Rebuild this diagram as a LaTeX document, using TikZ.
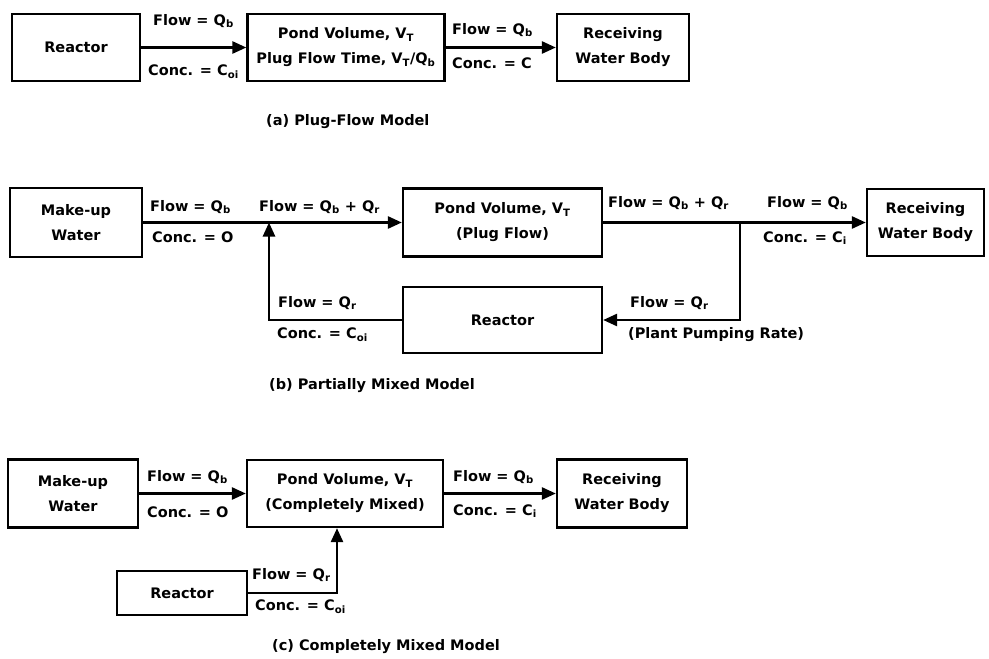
\documentclass[tikz,border=0pt]{standalone}
\usepackage{fontspec}
\setmainfont{DejaVu Sans}
\usetikzlibrary{arrows.meta}
\newcommand{\dfont}{\fontsize{14.5}{25}\selectfont\bfseries}
\newcommand{\sbs}[1]{\textsubscript{#1}}
\begin{document}
\begin{tikzpicture}[x=1pt,y=-1pt,
  box/.style={draw, line width=2.3pt, align=center, inner sep=0pt, font=\dfont},
  lbl/.style={anchor=west, inner sep=0pt, font=\dfont},
  conn/.style={line width=2.6pt},
  arr/.style={conn, -{Triangle[length=14pt,width=12pt]}}]
\path[use as bounding box, fill=white] (0,0) rectangle (989,659);

% ---------- (a) Plug-Flow Model ----------
\node[box, minimum width=128, minimum height=67] (ra) at (76,47.5) {Reactor};
\node[box, minimum width=197, minimum height=67] (pa) at (346,47.5) {Pond Volume, V\sbs{T}\\Plug Flow Time, V\sbs{T}/Q\sbs{b}};
\node[box, minimum width=132, minimum height=67] (wa) at (623,47.5) {Receiving\\Water Body};
\draw[arr] (ra.east) -- (pa.west);
\draw[arr] (pa.east) -- (wa.west);
\node[lbl] (la1) at (153,21) {Flow = Q\sbs{b}};
\node[lbl] (la2) at (148,72) {Conc. = C\sbs{oi}};
\node[lbl] (la3) at (452,30) {Flow = Q\sbs{b}};
\node[lbl] (la4) at (452,63) {Conc. = C};
\node[lbl] (capa) at (266,122) {(a) Plug-Flow Model};

% ---------- (b) Partially Mixed Model ----------
\node[box, minimum width=132, minimum height=69] (mb) at (76,222.5) {Make-up\\Water};
\node[box, minimum width=199, minimum height=68] (pb) at (502.5,222.5) {Pond Volume, V\sbs{T}\\(Plug Flow)};
\node[box, minimum width=117, minimum height=67] (wb) at (925.5,222.5) {Receiving\\Water Body};
\node[box, minimum width=199, minimum height=66] (rb) at (502.5,320) {Reactor};
\coordinate (jb) at (269,222.5);
\coordinate (sb) at (740,222.5);
\draw[conn] (mb.east) -- (jb);
\draw[arr] (jb) -- (pb.west);
\draw[conn] (pb.east) -- (sb);
\draw[arr] (sb) -- (wb.west);
\draw[arr] (sb) |- (rb.east);
\draw[arr] (rb.west) -| (jb);
\node[lbl] (lb1) at (150,207) {Flow = Q\sbs{b}};
\node[lbl] (lb2) at (152,237) {Conc. = O};
\node[lbl] (lb3) at (259,207) {Flow = Q\sbs{b} + Q\sbs{r}};
\node[lbl] (lb4) at (608,203) {Flow = Q\sbs{b} + Q\sbs{r}};
\node[lbl] (lb5) at (767,203) {Flow = Q\sbs{b}};
\node[lbl] (lb6) at (763,238) {Conc. = C\sbs{i}};
\node[lbl] (lb7) at (278,303) {Flow = Q\sbs{r}};
\node[lbl] (lb8) at (277,335) {Conc. = C\sbs{oi}};
\node[lbl] (lb9) at (630,303) {Flow = Q\sbs{r}};
\node[lbl] (lb10) at (628,335) {(Plant Pumping Rate)};
\node[lbl] (capb) at (269,386) {(b) Partially Mixed Model};

% ---------- (c) Completely Mixed Model ----------
\node[box, minimum width=130, minimum height=68] (mc) at (73,493.5) {Make-up\\Water};
\node[box, minimum width=196, minimum height=67] (pc) at (345,493.5) {Pond Volume, V\sbs{T}\\(Completely Mixed)};
\node[box, minimum width=130, minimum height=68] (wc) at (622,493.5) {Receiving\\Water Body};
\node[box, minimum width=130, minimum height=44] (rc) at (182,593) {Reactor};
\coordinate (pcin) at ([xshift=-8pt]pc.south);
\draw[arr] (mc.east) -- (pc.west);
\draw[arr] (pc.east) -- (wc.west);
\draw[arr] (rc.east) -| (pcin);
\node[lbl] (lc1) at (147,477) {Flow = Q\sbs{b}};
\node[lbl] (lc2) at (147,512) {Conc. = O};
\node[lbl] (lc3) at (453,477) {Flow = Q\sbs{b}};
\node[lbl] (lc4) at (453,511) {Conc. = C\sbs{i}};
\node[lbl] (lc5) at (252,575) {Flow = Q\sbs{r}};
\node[lbl] (lc6) at (255,607) {Conc. = C\sbs{oi}};
\node[lbl] (capc) at (272,647) {(c) Completely Mixed Model};
\end{tikzpicture}
\end{document}
